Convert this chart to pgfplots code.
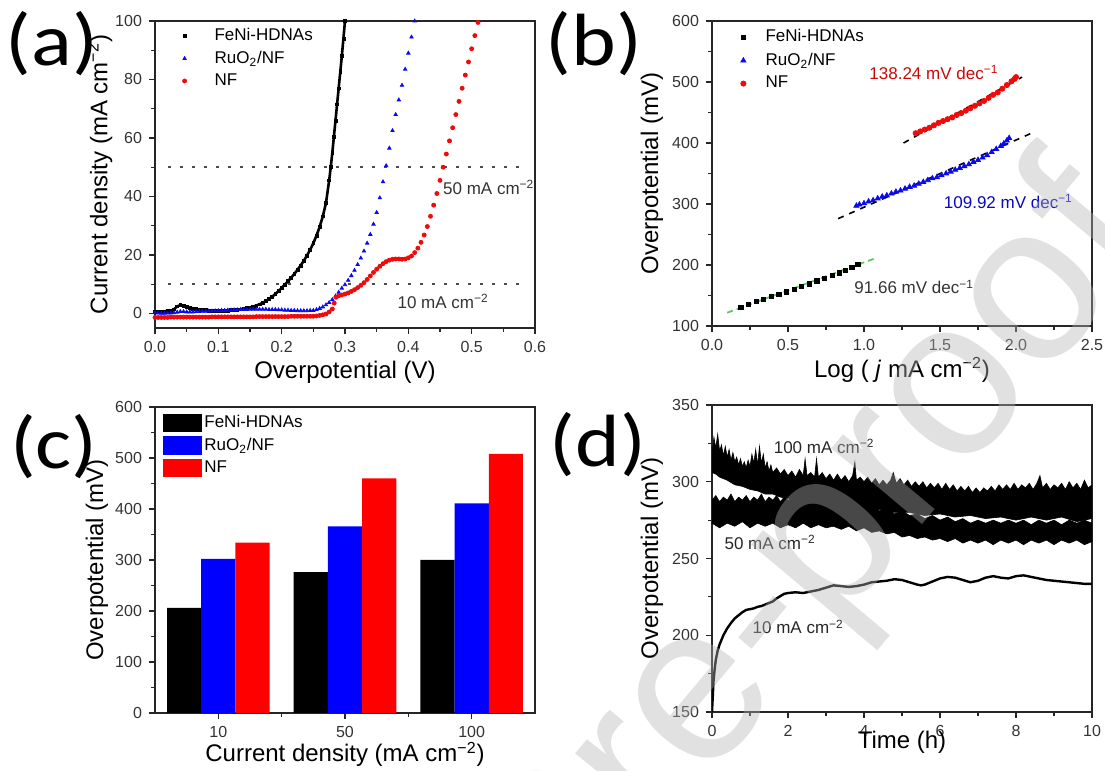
\documentclass[border=0pt]{standalone}
\usepackage{fontspec}
\setmainfont{Liberation Sans}
\newfontfamily\panelfont{Carlito}
\usepackage{pgfplots}
\pgfplotsset{compat=1.18}

\definecolor{cBlue}{RGB}{10,10,240}
\definecolor{cRed}{RGB}{240,10,10}
\definecolor{fitGreen}{RGB}{90,205,90}
\definecolor{wm}{RGB}{180,180,180}

\pgfplotsset{
  panel/.style={
    scale only axis, anchor=south west, width=190pt,
    axis line style={line width=0.8pt, black!85},
    tick align=outside, xtick pos=bottom, ytick pos=left,
    major tick length=3pt, minor tick length=1.8pt,
    every major tick/.style={black!85, line width=0.7pt},
    every minor tick/.style={black!85, line width=0.6pt},
    tick label style={font=\fontsize{8}{9}\selectfont, text=black!80},
    label style={font=\fontsize{12}{14}\selectfont},
    /pgf/number format/assume math mode=true,
    legend cell align=left,
  },
  onedec/.style={/pgf/number format/.cd, fixed, fixed zerofill, precision=1},
}
\newcommand{\sub}[1]{\textsubscript{#1}}
\newcommand{\cmm}{cm\textsuperscript{−2}}
\newcommand{\plabel}[1]{\scalebox{1.15}[1]{#1}}

\begin{document}
\begin{tikzpicture}
\useasboundingbox (0,0) rectangle (552.5pt,385.5pt);

% ---------------- (a) polarization curves
\begin{axis}[panel, at={(77.5pt,221.5pt)}, height=153.5pt,
    xmin=0, xmax=0.6, ymin=-5, ymax=100,
    xtick={0,0.1,...,0.6}, minor x tick num=1,
    ytick={0,20,...,100}, minor y tick num=1,
    xticklabel style={onedec},
    xlabel={Overpotential (V)},
    ylabel={Current density (mA \cmm)},
    xlabel style={at={(axis description cs:0.5,-0.143)}, anchor=center},
    ylabel style={at={(axis description cs:-0.145,0.5)}, anchor=center},
    legend image code/.code={\draw[draw=none, fill=none] (0pt,-2pt) rectangle (28pt,2pt);
      \draw[#1] plot coordinates {(14.6pt,0pt)};},
    legend style={at={(rel axis cs:0,1)}, yshift=-1.8pt, anchor=north west, draw=none, fill=none,
      inner sep=0pt, font=\fontsize{8.5}{10}\selectfont, row sep=0.5pt, nodes={inner sep=1.6pt}},
  ]
  \addplot[black!70, line width=0.8pt, dash pattern=on 1.5pt off 4.5pt, forget plot] coordinates {(0.02,50) (0.58,50)};
  \addplot[black!70, line width=0.8pt, dash pattern=on 1.5pt off 4.5pt, forget plot] coordinates {(0.02,10) (0.58,10)};
  \addplot[black, line width=1.3pt, mark=square*, mark size=0.72pt, mark options={line width=0.3pt}] coordinates {
    (0.000,0.6)(0.005,0.6)(0.010,0.7)(0.015,0.7)(0.020,0.8)(0.025,0.9)(0.030,1.4)(0.035,2.4)
    (0.040,2.8)(0.045,2.6)(0.050,2.3)(0.055,2.0)(0.060,1.7)(0.065,1.5)(0.070,1.3)(0.075,1.2)
    (0.080,1.1)(0.085,1.0)(0.090,1.0)(0.095,0.9)(0.100,0.9)(0.105,0.9)(0.110,1.0)(0.115,1.0)
    (0.120,1.1)(0.125,1.2)(0.130,1.3)(0.135,1.4)(0.140,1.6)(0.145,1.8)(0.150,2.0)(0.155,2.3)
    (0.160,2.7)(0.165,3.1)(0.170,3.6)(0.175,4.2)(0.180,4.9)(0.185,5.7)(0.190,6.6)(0.195,7.6)
    (0.200,8.7)(0.205,9.8)(0.210,11.0)(0.215,12.2)(0.220,13.5)(0.225,14.9)(0.230,16.4)(0.235,18.0)
    (0.240,19.8)(0.245,21.8)(0.250,24.0)(0.255,26.6)(0.260,29.6)(0.265,33.2)(0.270,37.8)(0.275,45.5)
    (0.2775,50.0)(0.280,55.0)(0.2825,60.5)(0.285,66.0)(0.2875,71.5)(0.290,77.0)(0.2925,82.5)
    (0.295,88.0)(0.2975,94.0)(0.300,100.0)};
  \addlegendentry{FeNi-HDNAs}
  \addplot[only marks, mark=triangle*, mark size=0.95pt, cBlue] coordinates {
    (0.000,0.2)(0.005,0.1)(0.010,0.0)(0.015,0.0)(0.020,0.1)(0.025,0.1)(0.030,0.2)(0.035,0.4)
    (0.040,0.6)(0.045,0.6)(0.050,0.5)(0.055,0.5)(0.060,0.5)(0.065,0.6)(0.070,0.6)(0.075,0.7)
    (0.080,0.7)(0.085,0.8)(0.090,0.8)(0.095,0.9)(0.100,0.9)(0.105,1.0)(0.110,1.0)(0.115,1.1)
    (0.120,1.1)(0.125,1.2)(0.130,1.2)(0.135,1.3)(0.140,1.3)(0.145,1.3)(0.150,1.4)(0.155,1.4)
    (0.160,1.4)(0.165,1.4)(0.170,1.4)(0.175,1.4)(0.180,1.3)(0.185,1.3)(0.190,1.3)(0.195,1.2)
    (0.200,1.2)(0.205,1.1)(0.210,1.1)(0.215,1.0)(0.220,1.0)(0.225,0.9)(0.230,0.9)(0.235,0.9)
    (0.240,0.9)(0.245,1.0)(0.250,1.0)(0.255,1.3)(0.260,1.7)(0.265,2.2)(0.270,2.9)(0.275,3.7)
    (0.280,4.7)(0.285,5.9)(0.290,7.2)(0.295,8.6)(0.300,9.8)(0.305,11.3)(0.310,12.9)(0.315,14.7)
    (0.320,16.7)(0.325,18.9)(0.330,21.3)(0.335,24.0)(0.340,27.0)(0.345,30.5)(0.350,34.5)
    (0.355,39.5)(0.360,45.0)(0.365,50.5)(0.370,56.5)(0.375,62.5)(0.380,68.0)(0.385,73.0)
    (0.390,78.0)(0.395,83.5)(0.400,89.0)(0.405,94.5)(0.410,100.0)};
  \addlegendentry{RuO\sub{2}/NF}
  \addplot[only marks, mark=*, mark size=1.0pt, cRed] coordinates {
    (0.000,-1.4)(0.005,-1.4)(0.010,-1.4)(0.015,-1.4)(0.020,-1.4)(0.025,-1.3)(0.030,-1.3)(0.035,-1.3)
    (0.040,-1.3)(0.045,-1.3)(0.050,-1.3)(0.055,-1.3)(0.060,-1.3)(0.065,-1.3)(0.070,-1.3)(0.075,-1.3)
    (0.080,-1.3)(0.085,-1.3)(0.090,-1.2)(0.095,-1.2)(0.100,-1.2)(0.105,-1.2)(0.110,-1.2)(0.115,-1.2)
    (0.120,-1.2)(0.125,-1.2)(0.130,-1.2)(0.135,-1.2)(0.140,-1.2)(0.145,-1.2)(0.150,-1.2)(0.155,-1.2)
    (0.160,-1.1)(0.165,-1.1)(0.170,-1.1)(0.175,-1.1)(0.180,-1.1)(0.185,-1.1)(0.190,-1.1)(0.195,-1.1)
    (0.200,-1.1)(0.205,-1.1)(0.210,-1.1)(0.215,-1.0)(0.220,-1.0)(0.225,-1.0)(0.230,-1.0)(0.235,-1.0)
    (0.240,-1.0)(0.245,-1.0)(0.250,-1.0)(0.255,-0.9)(0.260,-0.7)(0.265,-0.5)(0.270,-0.2)(0.275,0.5)
    (0.280,1.5)(0.283,3.5)(0.286,5.5)(0.290,6.0)(0.295,6.3)(0.300,6.6)(0.305,7.0)(0.310,7.5)
    (0.315,8.1)(0.320,8.8)(0.325,9.6)(0.330,10.5)(0.335,11.6)(0.340,12.8)(0.345,14.0)(0.350,15.1)
    (0.355,16.1)(0.360,17.0)(0.365,17.7)(0.370,18.2)(0.375,18.5)(0.380,18.6)(0.385,18.6)(0.390,18.5)
    (0.395,18.6)(0.400,19.0)(0.405,19.6)(0.410,20.8)(0.415,22.3)(0.420,24.3)(0.425,26.8)(0.430,29.7)
    (0.435,33.2)(0.440,37.0)(0.445,41.0)(0.450,45.5)(0.455,50.0)(0.460,54.5)(0.465,59.0)(0.470,63.5)
    (0.475,68.0)(0.480,72.5)(0.485,77.0)(0.490,81.5)(0.495,86.0)(0.500,90.5)(0.505,95.0)(0.510,99.5)};
  \addlegendentry{NF}
  \node[font=\fontsize{8.5}{10}\selectfont, text=black!80] at (axis cs:0.527,43) {50 mA \cmm};
  \node[font=\fontsize{8.5}{10}\selectfont, text=black!80] at (axis cs:0.455,4) {10 mA \cmm};
\end{axis}

% ---------------- (b) Tafel plots
\begin{axis}[panel, at={(356pt,222.5pt)}, height=152.5pt,
    xmin=0, xmax=2.5, ymin=100, ymax=600,
    xtick={0,0.5,...,2.5}, minor x tick num=1,
    ytick={100,200,...,600}, minor y tick num=1,
    xticklabel style={onedec},
    xlabel={Log ( \textit{j} mA \cmm)},
    ylabel={Overpotential (mV)},
    xlabel style={at={(axis description cs:0.5,-0.144)}, anchor=center},
    ylabel style={at={(axis description cs:-0.158,0.5)}, anchor=center},
    legend image code/.code={\draw[draw=none, fill=none] (0pt,-2pt) rectangle (25pt,2pt);
      \draw[#1] plot coordinates {(15.5pt,0pt)};},
    legend style={at={(rel axis cs:0,1)}, yshift=-2.5pt, anchor=north west, draw=none, fill=none,
      inner sep=0pt, font=\fontsize{8.5}{10}\selectfont, row sep=0.8pt, nodes={inner sep=1.6pt}},
  ]
  \addplot[only marks, mark=square*, mark size=1.05pt, black] coordinates {
    (0.19,130)(0.24,135)(0.29,140)(0.34,144)(0.39,148)(0.44,152)(0.49,156)(0.54,160)(0.59,165)
    (0.64,169)(0.69,174)(0.74,178)(0.79,183)(0.84,187)(0.88,191)(0.92,196)(0.96,201)};
  \addlegendentry{FeNi-HDNAs}
  \addplot[only marks, mark=triangle*, mark size=1.45pt, cBlue] coordinates {
    (0.95,297)(0.97,299)(1.00,301)(1.03,304)(1.06,306)(1.09,309)(1.12,312)(1.15,314)(1.18,317)
    (1.21,320)(1.24,322)(1.27,325)(1.30,328)(1.33,330)(1.36,333)(1.39,336)(1.42,339)(1.45,342)
    (1.48,344)(1.51,347)(1.54,350)(1.57,353)(1.60,356)(1.63,359)(1.66,362)(1.69,365)(1.72,369)
    (1.75,372)(1.78,376)(1.81,380)(1.84,385)(1.87,390)(1.90,395)(1.92,399)(1.94,404)(1.955,408)};
  \addlegendentry{RuO\sub{2}/NF}
  \addplot[only marks, mark=*, mark size=1.3pt, cRed] coordinates {
    (1.34,416)(1.37,419)(1.40,422)(1.43,425)(1.46,429)(1.49,433)(1.52,436)(1.55,439)(1.58,442)
    (1.61,446)(1.64,449)(1.67,453)(1.70,457)(1.73,461)(1.76,465)(1.79,469)(1.82,474)(1.85,479)
    (1.88,483)(1.91,489)(1.94,495)(1.97,501)(1.99,505)(2.00,508)};
  \addlegendentry{NF}
  \addplot[fitGreen, line width=0.9pt, dash pattern=on 3pt off 2pt, forget plot] coordinates {(0.10,121.8) (1.08,211.6)};
  \addplot[black, line width=0.8pt, dash pattern=on 3pt off 3pt, forget plot] coordinates {(0.83,276) (2.11,417)};
  \addplot[black, line width=0.8pt, dash pattern=on 3pt off 3pt, forget plot] coordinates {(1.26,400) (2.04,508)};
  \node[font=\fontsize{8.5}{10}\selectfont, text=cRed!85!black] at (axis cs:1.46,516) {138.24 mV dec\textsuperscript{−1}};
  \node[font=\fontsize{8.5}{10}\selectfont, text=cBlue!80!black] at (axis cs:1.95,304) {109.92 mV dec\textsuperscript{−1}};
  \node[font=\fontsize{8.5}{10}\selectfont, text=black!80] at (axis cs:1.33,164) {91.66 mV dec\textsuperscript{−1}};
\end{axis}

% ---------------- (c) overpotential bars
\begin{axis}[panel, at={(77.5pt,29pt)}, height=153pt,
    ybar=0pt, bar width=0.27,
    xmin=-0.5, xmax=2.5, ymin=0, ymax=600,
    xtick={0,1,2}, xticklabels={10,50,100}, minor xtick={0.5,1.5},
    ytick={0,100,...,600}, minor y tick num=1,
    xlabel={Current density (mA \cmm)},
    ylabel={Overpotential (mV)},
    xlabel style={at={(axis description cs:0.5,-0.135)}, anchor=center},
    ylabel style={at={(axis description cs:-0.153,0.5)}, anchor=center},
    legend image code/.code={\fill[#1] (0pt,-4.6pt) rectangle (19.5pt,4.6pt);},
    legend style={at={(rel axis cs:0,1)}, xshift=4pt, yshift=-3pt, anchor=north west,
      draw=none, fill=none, inner sep=0pt, row sep=1.6pt,
      font=\fontsize{8.5}{10}\selectfont, nodes={inner sep=1pt}},
  ]
  \addplot[fill=black, draw=none] coordinates {(0,206) (1,276) (2,300)};
  \addlegendentry{FeNi-HDNAs}
  \addplot[fill=blue, draw=none] coordinates {(0,302) (1,366) (2,411)};
  \addlegendentry{RuO\sub{2}/NF}
  \addplot[fill=red, draw=none] coordinates {(0,334) (1,460) (2,508)};
  \addlegendentry{NF}
\end{axis}

% ---------------- (d) stability
\begin{axis}[panel, at={(356pt,29.5pt)}, height=153.5pt,
    xmin=0, xmax=10, ymin=150, ymax=350,
    xtick={0,2,...,10}, minor x tick num=1,
    ytick={150,200,...,350}, minor y tick num=1,
    xlabel={Time (h)},
    ylabel={Overpotential (mV)},
    xlabel style={at={(axis description cs:0.5,-0.1)}, anchor=center},
    ylabel style={at={(axis description cs:-0.158,0.5)}, anchor=center},
  ]
  % 100 mA cm-2 band: upper edge then lower edge
  \addplot[fill=black, draw=black, line width=0.3pt] coordinates {
    (0.00,318)(0.05,329)(0.10,322)(0.15,331)(0.20,320)(0.25,324)(0.30,317)(0.35,323)(0.40,316)
    (0.45,321)(0.50,314)(0.55,319)(0.60,313)(0.65,316)(0.70,311)(0.75,315)(0.80,310)(0.85,313)
    (0.90,309)(0.95,314)(1.00,310)(1.05,318)(1.10,312)(1.15,321)(1.20,311)(1.25,323)(1.30,312)
    (1.35,318)(1.40,309)(1.45,313)(1.50,307)(1.55,311)(1.60,306)(1.70,309)(1.80,305)(1.90,308)
    (2.00,304)(2.10,307)(2.20,303)(2.30,308)(2.40,304)(2.45,315)(2.50,304)(2.60,306)(2.70,303)
    (2.75,315)(2.80,303)(2.90,306)(3.00,302)(3.10,305)(3.20,301)(3.30,305)(3.40,301)(3.50,304)
    (3.60,300)(3.70,304)(3.76,313)(3.80,301)(3.90,303)(4.00,300)(4.10,303)(4.20,299)(4.30,302)
    (4.40,298)(4.50,301)(4.60,298)(4.70,301)(4.77,306)(4.85,299)(4.95,302)(5.05,298)(5.15,301)
    (5.25,297)(5.35,300)(5.45,297)(5.55,300)(5.65,296)(5.75,299)(5.85,296)(5.95,299)(6.05,295)
    (6.15,299)(6.25,295)(6.35,298)(6.45,294)(6.55,297)(6.65,294)(6.75,297)(6.85,293)(6.95,296)
    (7.05,293)(7.15,296)(7.25,294)(7.35,297)(7.45,294)(7.55,298)(7.65,295)(7.75,298)(7.85,295)
    (7.95,299)(8.05,295)(8.15,298)(8.25,296)(8.35,299)(8.45,295)(8.55,299)(8.63,304)(8.70,296)
    (8.80,299)(8.90,295)(9.00,298)(9.10,296)(9.20,299)(9.30,295)(9.40,300)(9.50,296)(9.60,299)
    (9.70,295)(9.80,301)(9.90,296)(10.00,298)
    (10.0,276)(9.6,274)(9.2,277)(8.8,275)(8.4,277)(8.0,275)(7.6,277)(7.2,276)(6.8,278)(6.4,277)
    (6.0,279)(5.6,278)(5.2,280)(4.8,280)(4.4,282)(4.0,281)(3.6,284)(3.2,284)(2.8,286)(2.4,287)
    (2.0,289)(1.8,290)(1.6,292)(1.4,292)(1.2,294)(1.0,295)(0.8,297)(0.6,298)(0.4,301)(0.2,303)
    (0.1,305)(0.0,306)} -- cycle;
  % 50 mA cm-2 band
  \addplot[fill=black, draw=black, line width=0.3pt] coordinates {
    (0,288)(0.1,291)(0.2,287)(0.3,290)(0.4,288)(0.5,292)(0.6,287)(0.7,290)(0.8,288)(0.9,291)
    (1.0,287)(1.1,290)(1.2,288)(1.3,292)(1.4,287)(1.5,290)(1.6,288)(1.7,291)(1.8,287)(1.9,290)
    (2.0,288)(2.2,290)(2.4,287)(2.6,289)(2.8,286)(3.0,288)(3.2,285)(3.4,287)(3.6,284)(3.8,286)
    (4.0,283)(4.2,285)(4.4,281)(4.6,283)(4.8,279)(5.0,281)(5.2,278)(5.4,279)(5.6,276)(5.8,278)
    (6.0,275)(6.2,277)(6.4,274)(6.6,276)(6.8,273)(7.0,275)(7.2,273)(7.4,275)(7.6,273)(7.8,275)
    (8.0,273)(8.2,275)(8.4,272)(8.6,275)(8.8,273)(9.0,275)(9.2,272)(9.4,275)(9.6,273)(9.8,275)
    (10,273)
    (10,261)(9.8,259)(9.6,262)(9.4,260)(9.2,262)(9.0,259)(8.8,262)(8.6,260)(8.4,262)(8.2,259)
    (8.0,262)(7.8,260)(7.6,262)(7.4,259)(7.2,262)(7.0,260)(6.8,262)(6.6,260)(6.4,263)(6.2,261)
    (6.0,263)(5.8,262)(5.6,264)(5.4,263)(5.2,265)(5.0,264)(4.8,267)(4.6,266)(4.4,268)(4.2,267)
    (4.0,270)(3.8,268)(3.6,271)(3.4,269)(3.2,271)(3.0,270)(2.8,272)(2.6,270)(2.4,273)(2.2,270)
    (2.0,272)(1.8,270)(1.6,273)(1.4,271)(1.2,273)(1.0,270)(0.8,274)(0.6,271)(0.4,273)(0.2,270)
    (0,273)} -- cycle;
  % 10 mA cm-2
  \addplot[black, line width=1.2pt] coordinates {
    (0,150)(0.02,160)(0.04,170)(0.07,178)(0.1,184)(0.15,190)(0.2,194)(0.3,200)(0.4,204.5)(0.5,208)
    (0.6,211)(0.7,213)(0.8,215)(0.9,216.5)(1.0,217)(1.1,217.5)(1.2,218.5)(1.3,219)(1.4,220)
    (1.5,221)(1.6,222)(1.7,224)(1.8,225.5)(1.9,227)(2.0,227.5)(2.2,228)(2.4,227.5)(2.6,228.5)
    (2.8,229.5)(3.0,231)(3.2,232.5)(3.4,232)(3.6,231.5)(3.8,232)(4.0,233)(4.2,234.5)(4.4,235)
    (4.6,235.5)(4.8,236.5)(5.0,236)(5.2,234.5)(5.4,233)(5.5,232.5)(5.6,233)(5.8,235)(6.0,237)
    (6.2,238)(6.4,237.5)(6.6,236)(6.8,234.5)(7.0,235.5)(7.2,237.5)(7.4,238.5)(7.6,237.5)(7.8,237)
    (8.0,238.5)(8.2,239)(8.4,238)(8.6,237)(8.8,236)(9.0,235.5)(9.2,235)(9.4,234.5)(9.6,234)
    (9.8,233.5)(10.0,233.5)};
  \node[font=\fontsize{8.5}{10}\selectfont, text=black!85] at (axis cs:2.95,323) {100 mA \cmm};
  \node[font=\fontsize{8.5}{10}\selectfont, text=black!85] at (axis cs:1.53,260.5) {50 mA \cmm};
  \node[font=\fontsize{8.5}{10}\selectfont, text=black!85] at (axis cs:2.27,205.5) {10 mA \cmm};
\end{axis}

% panel letters
\node[font=\panelfont\fontsize{37}{37}\selectfont] at (26pt,363.5pt) {\plabel{(a)}};
\node[font=\panelfont\fontsize{37}{37}\selectfont] at (297pt,363.5pt) {\plabel{(b)}};
\node[font=\panelfont\fontsize{37}{37}\selectfont] at (27pt,162pt) {\plabel{(c)}};
\node[font=\panelfont\fontsize{37}{37}\selectfont] at (299pt,163pt) {\plabel{(d)}};

% watermark
\node[overlay, rotate=50, anchor=base west, text=wm, text opacity=0.4,
      font=\fontsize{112}{112}\selectfont, inner sep=0pt] at (328pt,-35.5pt) {re-proof};
\node[overlay, rotate=50, anchor=base east, text=wm, text opacity=0.4,
      font=\fontsize{112}{112}\selectfont, inner sep=0pt] at (328pt,-35.5pt) {Journal P};
\end{tikzpicture}
\end{document}
